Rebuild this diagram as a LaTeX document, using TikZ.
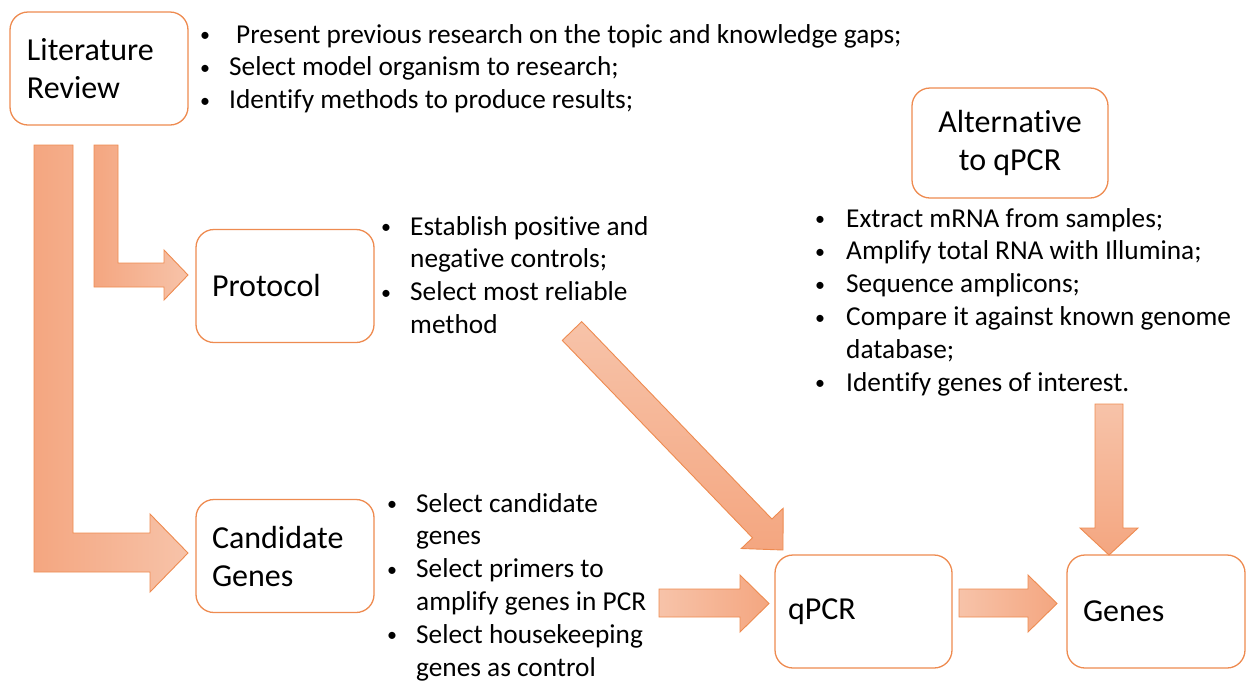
\documentclass[tikz,border=0pt]{standalone}
\usepackage{fontspec}
\setmainfont{Carlito}[Ligatures=NoCommon]
\definecolor{edge}{HTML}{EE8B50}
\definecolor{fillA}{HTML}{F4A680}
\definecolor{fillB}{HTML}{F7C3A9}
\newlength{\bulw}
\setlength{\bulw}{31pt}
% a small list bullet in a fixed-width slot
\newcommand{\bul}{\makebox[\bulw][l]{\hspace*{2pt}\raisebox{1.5pt}{\fontsize{20}{20}\selectfont\textbullet}}}
\newcommand{\cnt}{\hspace*{\bulw}}
\begin{document}
\begin{tikzpicture}[x=1pt,y=-1pt,
  box/.style={draw=edge, line width=1.3pt, rounded corners=18pt, fill=white,
    inner ysep=0pt, align=left, minimum height=113pt,
    font=\fontsize{32}{38}\selectfont},
  notes/.style={inner sep=0pt, anchor=north west, align=left,
    font=\fontsize{27.3}{32.8}\selectfont},
  blockarrow/.style={draw=edge, line width=0.9pt, line join=miter}]
\useasboundingbox (0,0) rectangle (1250,681);

% process boxes
\node[box, inner xsep=17pt, text width=144pt] (lit) at (99,68.5) {Literature\\Review};
\node[box, inner xsep=16pt, text width=146pt] (prot) at (285,286) {Protocol};
\node[box, inner xsep=16pt, text width=146pt] (cand) at (285,556) {Candidate\\Genes};
\node[box, inner xsep=13pt, text width=151pt] (qpcr) at (863.5,611.5) {qPCR};
\node[box, inner xsep=16pt, text width=146pt] (genes) at (1156,611.5) {Genes};
\node[box, inner xsep=0pt, align=center, minimum width=196pt, minimum height=110pt] (alt) at (1010,143) {Alternative\\to qPCR};

% bullet notes (each first line starts with a strut, top = baseline - strut height)
\node[notes] (litnotes) at (198,20) {\strut\bul\hspace{7pt}Present previous research on the topic and knowledge gaps;\\
  \bul Select model organism to research;\\
  \bul Identify methods to produce results;};
\node[notes] (protnotes) at (379,212) {\strut\bul Establish positive and\\
  \cnt negative controls;\\
  \bul Select most reliable\\
  \cnt method};
\node[notes] (candnotes) at (385,489) {\strut\bul Select candidate\\
  \cnt genes\\
  \bul Select primers to\\
  \cnt amplify genes in PCR\\
  \bul Select housekeeping\\
  \cnt genes as control};
\node[notes] (altnotes) at (813,204) {\strut\bul\hspace{2pt}Extract mRNA from samples;\\
  \bul\hspace{2pt}Amplify total RNA with Illumina;\\
  \bul\hspace{2pt}Sequence amplicons;\\
  \bul\hspace{2pt}Compare it against known genome\\
  \cnt\hspace{2pt}database;\\
  \bul\hspace{2pt}Identify genes of interest.};

% block arrows
\draw[blockarrow, left color=fillA, right color=fillB]
  (34,145) -- (73,145) -- (73,533) -- (150,533) -- (150,514) -- (188,553)
  -- (150,592) -- (150,572) -- (34,572) -- cycle;
\draw[blockarrow, left color=fillA, right color=fillB]
  (94,145) -- (118,145) -- (118,263) -- (164,263) -- (164,250) -- (188,275)
  -- (164,300) -- (164,287) -- (94,287) -- cycle;
\draw[blockarrow, top color=fillB, bottom color=fillA]
  (581.7,321.6) -- (771.9,519) -- (783.1,508.3) -- (783,550) -- (741.3,548.5)
  -- (752.5,537.8) -- (562.3,340.4) -- cycle;
\draw[blockarrow, left color=fillB, right color=fillA]
  (659,589) -- (740,589) -- (740,575) -- (769,603.5) -- (740,632) -- (740,617)
  -- (659,617) -- cycle;
\draw[blockarrow, left color=fillB, right color=fillA]
  (959,589) -- (1028,589) -- (1028,575) -- (1057,603.5) -- (1028,632) -- (1028,617)
  -- (959,617) -- cycle;
\draw[blockarrow, top color=fillB, bottom color=fillA]
  (1095,404) -- (1123,404) -- (1123,528) -- (1138,528) -- (1109,555) -- (1080,528)
  -- (1095,528) -- cycle;
\end{tikzpicture}
\end{document}
